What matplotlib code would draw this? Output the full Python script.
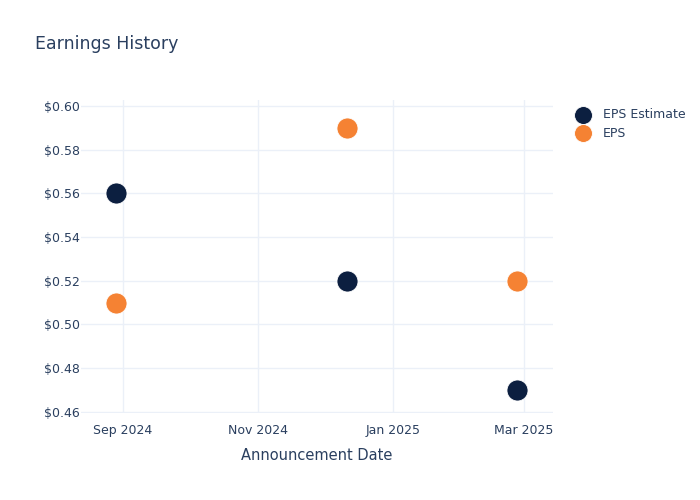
import datetime as dt
import matplotlib
matplotlib.use("Agg")
import matplotlib.pyplot as plt
import matplotlib.dates as mdates
from matplotlib.ticker import FuncFormatter

dates = [dt.date(2024, 8, 29), dt.date(2024, 12, 11), dt.date(2025, 2, 26)]
eps_estimate = [0.56, 0.52, 0.47]
eps_actual = [0.51, 0.59, 0.52]

text_color = "#2a3f5f"
grid_color = "#ebf0f8"

fig = plt.figure(figsize=(7, 5), dpi=100)
ax = fig.add_axes([0.1157, 0.174, 0.674, 0.626])

ax.scatter(dates, eps_estimate, s=230, color="#0c1f40", edgecolors="white",
           linewidths=0.6, label="EPS Estimate", zorder=3)
ax.scatter(dates, eps_actual, s=230, color="#f58233", edgecolors="white",
           linewidths=0.6, label="EPS", zorder=3)

ax.set_xlim(dt.date(2024, 8, 13), dt.date(2025, 3, 14))
ax.set_ylim(0.4595, 0.6027)
ax.set_yticks([0.46, 0.48, 0.50, 0.52, 0.54, 0.56, 0.58, 0.60])
ax.yaxis.set_major_formatter(FuncFormatter(lambda v, p: f"${v:.2f}"))
ax.xaxis.set_major_locator(mdates.MonthLocator(bymonth=[1, 3, 5, 7, 9, 11]))
ax.xaxis.set_major_formatter(mdates.DateFormatter("%b %Y"))

for s in ax.spines.values():
    s.set_visible(False)
ax.grid(True, color=grid_color, linewidth=1)
ax.set_axisbelow(True)
ax.tick_params(axis="y", length=0, labelsize=9, colors=text_color, pad=1)
ax.tick_params(axis="x", length=0, labelsize=9, colors=text_color, pad=8)

ax.set_xlabel("Announcement Date", fontsize=10.5, color=text_color, labelpad=8)
fig.text(0.05, 0.912, "Earnings History", fontsize=12.5, color=text_color,
         va="center", ha="left")

leg = ax.legend(loc="upper left", bbox_to_anchor=(1.027, 0.99), frameon=False,
                fontsize=9, labelcolor=text_color, handletextpad=0.6,
                borderaxespad=0, labelspacing=0.45, markerscale=0.85)

fig.savefig("out.png", dpi=100)
